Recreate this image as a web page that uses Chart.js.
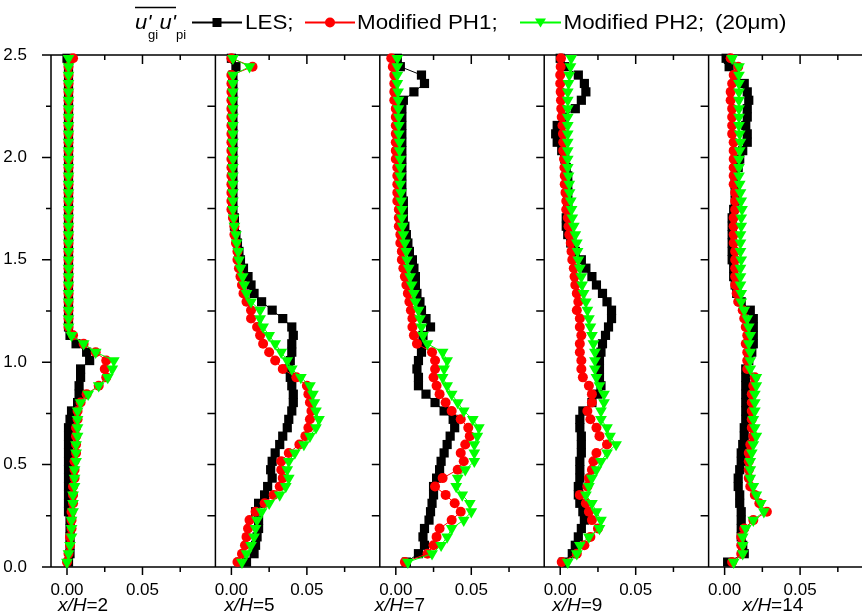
<!DOCTYPE html>
<html>
<head>
<meta charset="utf-8">
<title>u'gi u'pi profiles</title>
<script src="https://cdn.jsdelivr.net/npm/chart.js@4.4.1/dist/chart.umd.min.js"></script>
<style>
  html, body { margin: 0; padding: 0; background: #fff; overflow: hidden; }
  #profiles { display: block; }
</style>
</head>
<body>
<canvas id="profiles" width="862" height="611" style="width:862px;height:611px"></canvas>
<script>
// stations along the channel
const stations = ['2', '5', '7', '9', '14'];

// sampling heights y/H (same for every profile)
const heights = [
  0.024, 0.065, 0.106, 0.147, 0.188, 0.229, 0.270, 0.311, 0.352, 0.393,
  0.434, 0.475, 0.516, 0.557, 0.598, 0.639, 0.680, 0.721, 0.762, 0.803,
  0.844, 0.885, 0.926, 0.967, 1.008, 1.049, 1.090, 1.131, 1.172, 1.213,
  1.254, 1.295, 1.336, 1.377, 1.418, 1.459, 1.500, 1.541, 1.582, 1.623,
  1.664, 1.705, 1.746, 1.787, 1.828, 1.869, 1.910, 1.951, 1.992, 2.033,
  2.074, 2.115, 2.156, 2.197, 2.238, 2.279, 2.320, 2.361, 2.402, 2.443,
  2.484
];

// x/H = 2
const les_2 = [
  0.001, 0.002, 0.002, 0.002, 0.002, 0.002, 0.001, 0.001, 0.001, 0.001,
  0.001, 0.001, 0.001, 0.001, 0.001, 0.001, 0.001, 0.002, 0.003, 0.007,
  0.008, 0.008, 0.009, 0.009, 0.015, 0.013, 0.006, 0.002, 0.001, 0.001,
  0.001, 0.001, 0.001, 0.001, 0.001, 0.001, 0.001, 0.001, 0.001, 0.001,
  0.001, 0.001, 0.001, 0.001, 0.001, 0.001, 0.001, 0.001, 0.001, 0.001,
  0.001, 0.001, 0.001, 0.001, 0.001, 0.001, 0.001, 0.001, 0.001, 0.001,
  0.000
];
const ph1_2 = [
  0.000, 0.001, 0.002, 0.002, 0.003, 0.003, 0.003, 0.004, 0.004, 0.004,
  0.005, 0.005, 0.005, 0.006, 0.006, 0.006, 0.006, 0.007, 0.007, 0.009,
  0.013, 0.021, 0.026, 0.025, 0.026, 0.019, 0.011, 0.004, 0.001, 0.001,
  0.001, 0.001, 0.001, 0.001, 0.001, 0.001, 0.001, 0.001, 0.001, 0.001,
  0.001, 0.001, 0.001, 0.001, 0.001, 0.001, 0.001, 0.001, 0.001, 0.001,
  0.001, 0.001, 0.001, 0.001, 0.001, 0.001, 0.001, 0.001, 0.001, 0.001,
  0.004
];
const ph2_2 = [
  0.000, 0.001, 0.002, 0.003, 0.003, 0.003, 0.004, 0.004, 0.004, 0.005,
  0.005, 0.005, 0.006, 0.006, 0.006, 0.007, 0.007, 0.007, 0.007, 0.009,
  0.014, 0.021, 0.027, 0.030, 0.031, 0.019, 0.011, 0.003, 0.001, 0.001,
  0.001, 0.001, 0.001, 0.001, 0.001, 0.001, 0.001, 0.001, 0.001, 0.001,
  0.001, 0.001, 0.001, 0.001, 0.001, 0.001, 0.001, 0.001, 0.001, 0.001,
  0.001, 0.001, 0.001, 0.001, 0.001, 0.001, 0.001, 0.001, 0.001, 0.001,
  0.001
];

// x/H = 5
const les_5 = [
  0.010, 0.015, 0.016, 0.017, 0.018, 0.018, 0.016, 0.018, 0.022, 0.024,
  0.027, 0.026, 0.027, 0.029, 0.032, 0.034, 0.037, 0.038, 0.040, 0.041,
  0.041, 0.040, 0.039, 0.038, 0.039, 0.040, 0.040, 0.041, 0.040, 0.034,
  0.027, 0.020, 0.015, 0.013, 0.011, 0.008, 0.006, 0.005, 0.004, 0.003,
  0.002, 0.002, 0.001, 0.001, 0.001, 0.001, 0.001, 0.001, 0.001, 0.001,
  0.001, 0.001, 0.001, 0.001, 0.001, 0.001, 0.001, 0.001, 0.001, 0.003,
  0.000
];
const ph1_5 = [
  0.004, 0.007, 0.009, 0.010, 0.011, 0.012, 0.016, 0.022, 0.028, 0.032,
  0.034, 0.033, 0.033, 0.038, 0.045, 0.049, 0.051, 0.052, 0.053, 0.052,
  0.051, 0.050, 0.043, 0.034, 0.029, 0.025, 0.021, 0.019, 0.017, 0.013,
  0.013, 0.010, 0.008, 0.007, 0.006, 0.005, 0.004, 0.004, 0.003, 0.002,
  0.002, 0.001, 0.000, 0.000, 0.000, 0.000, 0.000, 0.000, 0.000, 0.000,
  0.000, 0.000, 0.000, 0.000, 0.000, 0.000, 0.000, 0.000, 0.000, 0.014,
  0.000
];
const ph2_5 = [
  0.007, 0.010, 0.013, 0.015, 0.016, 0.017, 0.020, 0.025, 0.032, 0.036,
  0.038, 0.037, 0.038, 0.042, 0.048, 0.052, 0.056, 0.058, 0.056, 0.055,
  0.054, 0.052, 0.046, 0.040, 0.037, 0.033, 0.029, 0.025, 0.021, 0.019,
  0.019, 0.013, 0.010, 0.0085, 0.0075, 0.006, 0.005, 0.0045, 0.0035, 0.003,
  0.002, 0.0015, 0.001, 0.001, 0.001, 0.001, 0.001, 0.001, 0.001, 0.001,
  0.001, 0.001, 0.001, 0.001, 0.001, 0.001, 0.001, 0.001, 0.001, 0.012,
  0.001
];

// x/H = 7
const les_7 = [
  0.007, 0.015, 0.019, 0.018, 0.019, 0.022, 0.023, 0.024, 0.025, 0.025,
  0.027, 0.029, 0.030, 0.032, 0.034, 0.036, 0.039, 0.038, 0.032, 0.026,
  0.020, 0.015, 0.015, 0.014, 0.015, 0.017, 0.017, 0.018, 0.023, 0.020,
  0.017, 0.016, 0.014, 0.013, 0.013, 0.012, 0.011, 0.009, 0.008, 0.007,
  0.006, 0.005, 0.005, 0.005, 0.004, 0.004, 0.004, 0.004, 0.004, 0.004,
  0.004, 0.004, 0.004, 0.004, 0.004, 0.005, 0.012, 0.019, 0.017, 0.003,
  0.001
];
const ph1_7 = [
  0.006, 0.021, 0.025, 0.027, 0.029, 0.037, 0.043, 0.039, 0.033, 0.026,
  0.031, 0.041, 0.045, 0.043, 0.046, 0.049, 0.048, 0.043, 0.037, 0.033,
  0.029, 0.027, 0.025, 0.026, 0.026, 0.024, 0.014, 0.012, 0.011, 0.011,
  0.010, 0.009, 0.008, 0.007, 0.006, 0.005, 0.004, 0.004, 0.003, 0.003,
  0.002, 0.002, 0.002, 0.001, 0.001, 0.001, 0.001, 0.001, 0.000, 0.000,
  0.000, 0.000, 0.000, 0.000, 0.000, -0.001, -0.001, -0.001, -0.001, -0.002,
  -0.003
];
const ph2_7 = [
  0.008, 0.024, 0.030, 0.034, 0.037, 0.045, 0.050, 0.049, 0.044, 0.040,
  0.041, 0.046, 0.052, 0.052, 0.052, 0.054, 0.055, 0.051, 0.045, 0.041,
  0.037, 0.034, 0.031, 0.032, 0.034, 0.031, 0.021, 0.018, 0.017, 0.016,
  0.015, 0.013, 0.012, 0.0105, 0.0095, 0.0085, 0.0075, 0.007, 0.006, 0.005,
  0.0045, 0.004, 0.004, 0.0035, 0.0035, 0.003, 0.003, 0.003, 0.003, 0.0025,
  0.0025, 0.002, 0.002, 0.002, 0.0017, 0.0017, 0.0015, 0.001, 0.001, 0.001,
  0.001
];

// x/H = 9
const les_9 = [
  0.002, 0.008, 0.010, 0.012, 0.014, 0.016, 0.015, 0.013, 0.012, 0.012,
  0.013, 0.013, 0.013, 0.014, 0.014, 0.014, 0.013, 0.013, 0.015, 0.021,
  0.025, 0.027, 0.026, 0.026, 0.026, 0.027, 0.028, 0.030, 0.032, 0.034,
  0.034, 0.031, 0.028, 0.024, 0.021, 0.017, 0.014, 0.010, 0.007, 0.005,
  0.004, 0.004, 0.005, 0.005, 0.005, 0.005, 0.005, 0.004, 0.003, 0.001,
  -0.002, -0.003, -0.002, 0.002, 0.010, 0.014, 0.017, 0.016, 0.012, 0.003,
  0.000
];
const ph1_9 = [
  0.001, 0.011, 0.016, 0.020, 0.025, 0.021, 0.019, 0.017, 0.013, 0.018,
  0.019, 0.021, 0.022, 0.024, 0.031, 0.026, 0.024, 0.020, 0.018, 0.021,
  0.021, 0.019, 0.015, 0.014, 0.014, 0.013, 0.013, 0.014, 0.013, 0.013,
  0.011, 0.012, 0.011, 0.010, 0.0095, 0.009, 0.008, 0.0075, 0.007, 0.006,
  0.0055, 0.005, 0.004, 0.004, 0.0035, 0.003, 0.003, 0.0028, 0.0025, 0.002,
  0.002, 0.0018, 0.0015, 0.001, 0.0007, 0.0005, 0.0003, 0.000, 0.000, 0.0003,
  0.0005
];
const ph2_9 = [
  0.005, 0.011, 0.013, 0.019, 0.026, 0.027, 0.024, 0.021, 0.017, 0.019,
  0.021, 0.024, 0.027, 0.031, 0.037, 0.033, 0.031, 0.027, 0.027, 0.029,
  0.029, 0.026, 0.024, 0.023, 0.023, 0.023, 0.022, 0.021, 0.020, 0.019,
  0.018, 0.017, 0.0155, 0.0145, 0.014, 0.013, 0.012, 0.0115, 0.011, 0.010,
  0.009, 0.008, 0.0075, 0.007, 0.0062, 0.006, 0.0055, 0.005, 0.005, 0.005,
  0.005, 0.005, 0.005, 0.005, 0.005, 0.005, 0.005, 0.0055, 0.006, 0.0068,
  0.0073
];

// x/H = 14
const les_14 = [
  0.002, 0.013, 0.012, 0.011, 0.011, 0.011, 0.011, 0.010, 0.010, 0.009,
  0.009, 0.010, 0.011, 0.011, 0.012, 0.013, 0.013, 0.014, 0.014, 0.014,
  0.014, 0.014, 0.014, 0.014, 0.016, 0.018, 0.019, 0.019, 0.019, 0.019,
  0.017, 0.011, 0.008, 0.007, 0.006, 0.006, 0.005, 0.005, 0.005, 0.005,
  0.005, 0.005, 0.006, 0.007, 0.007, 0.007, 0.007, 0.009, 0.010, 0.012,
  0.015, 0.015, 0.014, 0.015, 0.015, 0.016, 0.015, 0.013, 0.007, 0.003,
  0.001
];
const ph1_14 = [
  0.005, 0.011, 0.011, 0.011, 0.013, 0.019, 0.028, 0.023, 0.020, 0.017,
  0.016, 0.016, 0.016, 0.016, 0.017, 0.019, 0.018, 0.018, 0.018, 0.018,
  0.018, 0.019, 0.020, 0.015, 0.015, 0.015, 0.014, 0.015, 0.014, 0.013,
  0.012, 0.009, 0.008, 0.007, 0.007, 0.007, 0.007, 0.007, 0.006, 0.006,
  0.006, 0.006, 0.007, 0.007, 0.007, 0.006, 0.006, 0.006, 0.006, 0.006,
  0.006, 0.005, 0.005, 0.005, 0.005, 0.004, 0.004, 0.005, 0.006, 0.009,
  0.004
];
const ph2_14 = [
  0.006, 0.012, 0.012, 0.012, 0.014, 0.019, 0.026, 0.024, 0.021, 0.019,
  0.017, 0.017, 0.017, 0.018, 0.019, 0.021, 0.020, 0.019, 0.020, 0.020,
  0.020, 0.021, 0.021, 0.017, 0.017, 0.017, 0.016, 0.017, 0.016, 0.015,
  0.013, 0.011, 0.011, 0.0105, 0.0105, 0.0105, 0.011, 0.0105, 0.0105, 0.0105,
  0.011, 0.011, 0.0115, 0.011, 0.0105, 0.010, 0.0095, 0.0095, 0.0095, 0.010,
  0.0105, 0.010, 0.0095, 0.0095, 0.0095, 0.0095, 0.0095, 0.0095, 0.0095, 0.0095,
  0.005
];

// axis ticks
const xTickValues = [0, 0.025, 0.05, 0.075];
const xLabelledTicks = [0, 0.05];
const yTickValues = [0, 0.25, 0.5, 0.75, 1.0, 1.25, 1.5, 1.75, 2.0, 2.25, 2.5];
const yLabelledTicks = [0, 0.5, 1.0, 1.5, 2.0, 2.5];

const lesSeries = [les_2, les_5, les_7, les_9, les_14];
const ph1Series = [ph1_2, ph1_5, ph1_7, ph1_9, ph1_14];
const ph2Series = [ph2_2, ph2_5, ph2_7, ph2_9, ph2_14];

// every panel spans the same x range; the last one runs off the right edge
const X_MIN = -0.0106;
const X_SPAN = 0.1089;
const panelWeights = [1, 1, 1, 1, 0.933];

const FONT = "'Liberation Sans', Arial, sans-serif";

// marker styles; lower order is painted on top
const styles = {
  les: { label: 'LES', color: '#000000', pointStyle: 'rect', radius: 6.5, rotation: 0, order: 2 },
  ph1: { label: 'Modified PH1', color: '#ff0000', pointStyle: 'circle', radius: 5, rotation: 0, order: 1 },
  ph2: { label: 'Modified PH2', color: '#00ff00', pointStyle: 'triangle', radius: 6.8, rotation: 180, order: 0 }
};

function makeDataset(values, style, k) {
  return {
    label: style.label + ' x/H=' + stations[k],
    xAxisID: 'x' + k,
    yAxisID: 'y',
    data: values.map((v, i) => ({ x: v, y: heights[i] })),
    showLine: true,
    borderColor: style.color,
    backgroundColor: style.color,
    borderWidth: 1,
    pointStyle: style.pointStyle,
    pointRadius: style.radius,
    pointHoverRadius: style.radius,
    pointRotation: style.rotation,
    pointBorderWidth: 0,
    order: style.order,
    clip: false
  };
}

const datasets = [];
stations.forEach((st, k) => {
  datasets.push(makeDataset(lesSeries[k], styles.les, k));
  datasets.push(makeDataset(ph1Series[k], styles.ph1, k));
  datasets.push(makeDataset(ph2Series[k], styles.ph2, k));
});

// one x axis per station, laid side by side
const scales = {
  y: {
    type: 'linear',
    position: 'left',
    min: 0,
    max: 2.5,
    grid: { display: false },
    border: { display: false },
    ticks: {
      stepSize: 0.5,
      padding: 16,
      color: '#000',
      font: { family: FONT, size: 17 },
      callback: v => v.toFixed(1)
    },
    afterFit: s => { s.width = 51; }
  }
};
stations.forEach((st, k) => {
  scales['x' + k] = {
    type: 'linear',
    position: 'bottom',
    stack: 'panels',
    stackWeight: panelWeights[k],
    min: X_MIN,
    max: X_MIN + X_SPAN * panelWeights[k],
    grid: { display: false },
    border: { display: false },
    afterBuildTicks: s => { s.ticks = xTickValues.map(v => ({ value: v })); },
    afterFit: s => {
      s.height = 44;
      s.paddingLeft = 0;
      s.paddingRight = 0;
    },
    ticks: {
      autoSkip: false,
      maxRotation: 0,
      minRotation: 0,
      padding: 5,
      color: '#000',
      font: { family: FONT, size: 17 },
      callback: v => (xLabelledTicks.includes(v) ? v.toFixed(2) : '')
    }
  };
});

// panel frames and tick marks
const framePlugin = {
  id: 'frame',
  beforeDatasetsDraw(chart) {
    const { ctx, chartArea: area } = chart;
    const yScale = chart.scales.y;
    ctx.save();
    ctx.strokeStyle = '#000';
    ctx.lineWidth = 1.5;
    ctx.beginPath();
    // top and bottom edges across all panels
    ctx.moveTo(area.left, area.top);
    ctx.lineTo(area.right, area.top);
    ctx.moveTo(area.left, area.bottom);
    ctx.lineTo(area.right, area.bottom);
    stations.forEach((st, k) => {
      const xs = chart.scales['x' + k];
      ctx.moveTo(xs.left, area.top);
      ctx.lineTo(xs.left, area.bottom);
      xTickValues.forEach(v => {
        const px = xs.getPixelForValue(v);
        const major = xLabelledTicks.includes(v);
        ctx.moveTo(px, area.bottom);
        ctx.lineTo(px, area.bottom + (major ? 8 : 5));
        ctx.moveTo(px, area.top);
        ctx.lineTo(px, area.top + (major ? 9 : 5));
      });
      yTickValues.forEach(v => {
        const py = yScale.getPixelForValue(v);
        let len = 8;
        if (k === 0) len = yLabelledTicks.includes(v) ? 9 : 5;
        ctx.moveTo(xs.left, py);
        ctx.lineTo(xs.left - len, py);
      });
    });
    ctx.stroke();
    ctx.restore();
  }
};

// station captions under each panel: italic x/H, upright =N
const captionShift = [-9, -7, -21, -8, 18];
const captionPlugin = {
  id: 'captions',
  afterDraw(chart) {
    const ctx = chart.ctx;
    ctx.save();
    ctx.fillStyle = '#000';
    ctx.textBaseline = 'alphabetic';
    stations.forEach((st, k) => {
      const xs = chart.scales['x' + k];
      let x = xs.getPixelForValue(0) + captionShift[k];
      const y = 611;
      ctx.font = 'italic 19px ' + FONT;
      ctx.fillText('x/H', x, y);
      x += ctx.measureText('x/H').width;
      ctx.font = '19px ' + FONT;
      ctx.fillText('=' + st, x, y);
    });
    ctx.restore();
  }
};

function wideText(ctx, text, x, y, sx) {
  ctx.save();
  ctx.translate(x, y);
  ctx.scale(sx, 1);
  ctx.fillText(text, 0, 0);
  ctx.restore();
}

// legend row across the top
const headerPlugin = {
  id: 'header',
  afterDraw(chart) {
    const ctx = chart.ctx;
    const base = 29;
    const mid = 22.5;
    ctx.save();
    ctx.fillStyle = '#000';
    ctx.strokeStyle = '#000';
    ctx.textBaseline = 'alphabetic';

    // quantity symbol with overbar
    ctx.font = 'italic 20px ' + FONT;
    wideText(ctx, "u'", 135, base, 1.1);
    wideText(ctx, "u'", 159.5, base, 1.1);
    ctx.font = '13px ' + FONT;
    ctx.fillText('gi', 148, 39);
    ctx.fillText('pi', 176, 39);
    ctx.lineWidth = 1.5;
    ctx.beginPath();
    ctx.moveTo(135, 7.5);
    ctx.lineTo(176, 7.5);
    ctx.stroke();

    const items = [
      { s: styles.les, x0: 192, x1: 242, text: 'LES;', tx: 245 },
      { s: styles.ph1, x0: 305, x1: 355, text: 'Modified PH1;', tx: 357 },
      { s: styles.ph2, x0: 520, x1: 561, text: 'Modified PH2;', tx: 563.5 }
    ];
    items.forEach(it => {
      const cx = (it.x0 + it.x1) / 2;
      ctx.strokeStyle = it.s.color;
      ctx.fillStyle = it.s.color;
      ctx.lineWidth = 2;
      ctx.beginPath();
      ctx.moveTo(it.x0, mid);
      ctx.lineTo(it.x1, mid);
      ctx.stroke();
      ctx.beginPath();
      if (it.s.pointStyle === 'rect') {
        ctx.rect(cx - 4.5, mid - 4.5, 9, 9);
      } else if (it.s.pointStyle === 'circle') {
        ctx.arc(cx, mid, 5, 0, Math.PI * 2);
      } else {
        ctx.moveTo(cx - 5.5, mid - 4);
        ctx.lineTo(cx + 5.5, mid - 4);
        ctx.lineTo(cx, mid + 5);
        ctx.closePath();
      }
      ctx.fill();
      ctx.fillStyle = '#000';
      ctx.font = '20px ' + FONT;
      wideText(ctx, it.text, it.tx, base, 1.12);
    });
    ctx.font = '20px ' + FONT;
    wideText(ctx, '(20\u03bcm)', 715, base, 1.12);
    ctx.restore();
  }
};

new Chart(document.getElementById('profiles'), {
  type: 'scatter',
  data: { datasets: datasets },
  options: {
    responsive: false,
    animation: false,
    devicePixelRatio: 1,
    events: [],
    layout: {
      autoPadding: false,
      padding: { top: 55, left: 0, right: 0, bottom: 0 }
    },
    scales: scales,
    plugins: {
      legend: { display: false },
      tooltip: { enabled: false }
    }
  },
  plugins: [framePlugin, captionPlugin, headerPlugin]
});
</script>
</body>
</html>
